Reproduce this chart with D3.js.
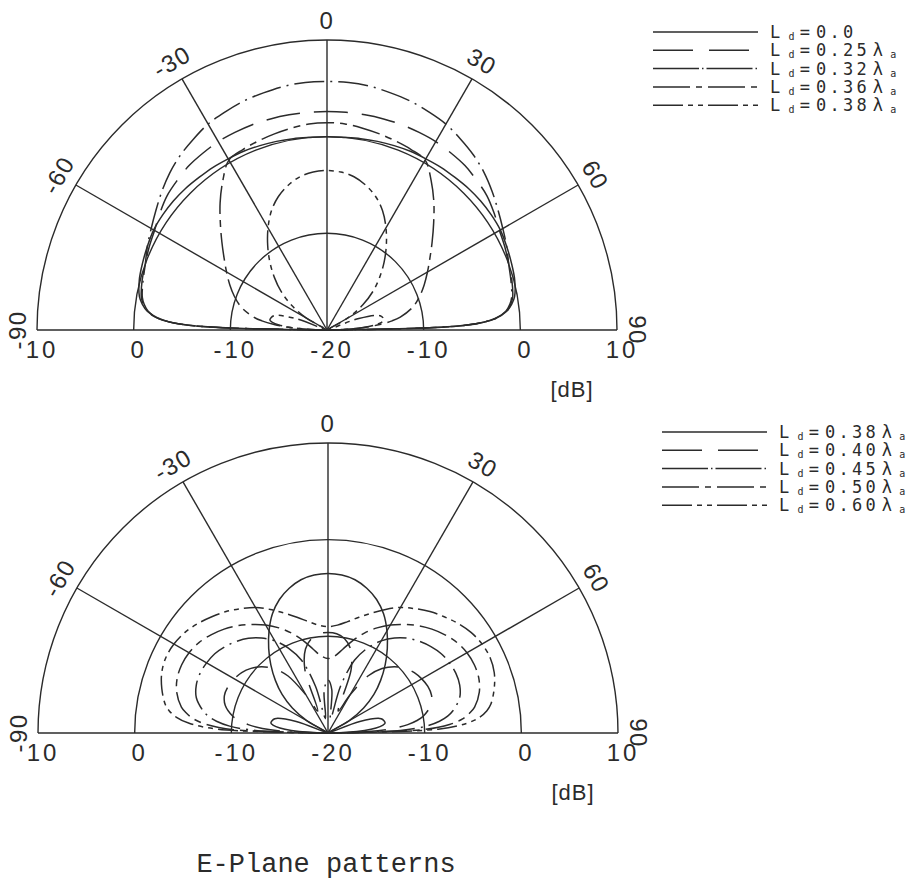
<!DOCTYPE html>
<html><head><meta charset="utf-8">
<script src="https://cdn.jsdelivr.net/npm/d3@7"></script>
<style>body{margin:0;background:#fff}</style>
</head><body>
<svg id="c" width="922" height="881"></svg>
<script>
// ---------- data ----------
const angles = [-90,-88,-86,-84,-82,-80,-75,-70,-65,-60,-55,-50,-45,-40,-35,-30,-25,-20,-15,-10,-5,0,5,10,15,20,25,30,35,40,45,50,55,60,65,70,75,80,82,84,86,88,90];

const ringTicks = [-10, 0, 10];
const spokeAngles = [-90, -60, -30, 0, 30, 60, 90];
const angleLabels = ["-90", "-60", "-30", "0", "30", "60", "90"];
const dbTickValues = [10, 0, -10, -20, -10, 0, 10];
const dbTickSides  = [-1, -1, -1, 0, 1, 1, 1];
const dbTickLabels = ["10", "0", "-10", "-20", "-10", "0", "10"];

// upper plot
const topLegend = ["0.0", "0.25", "0.32", "0.36", "0.38"];
const top_L000 = [-20,-5.5,-2.5,-1.3,-0.7,-0.3,0.1,0.3,0.5,0.7,0.75,0.75,0.7,0.6,0.55,0.45,0.4,0.3,0.2,0.1,0,0,0,0.1,0.2,0.3,0.4,0.45,0.55,0.6,0.7,0.75,0.75,0.7,0.5,0.3,0.1,-0.3,-0.7,-1.3,-2.5,-5.5,-20];
const top_L025 = [-20,-5.5,-2.4,-1.3,-0.8,-0.5,-0.2,0.0,0.3,0.6,1.1,1.6,1.9,2.2,2.35,2.5,2.55,2.6,2.6,2.6,2.6,2.6,2.6,2.6,2.6,2.6,2.55,2.5,2.35,2.2,1.9,1.6,1.1,0.6,0.3,0.0,-0.2,-0.5,-0.8,-1.3,-2.4,-5.5,-20];
const top_L032 = [-20,-5.5,-2.5,-1.4,-0.9,-0.6,-0.3,0.0,0.5,1.0,1.6,2.3,3.0,3.6,4.1,4.6,4.9,5.2,5.4,5.6,5.7,5.7,5.7,5.6,5.4,5.2,4.9,4.6,4.1,3.6,3.0,2.3,1.6,1.0,0.5,0.0,-0.3,-0.6,-0.9,-1.4,-2.5,-5.5,-20];
const top_L036 = [-20,-18,-16,-14.5,-13.2,-12.3,-10.8,-9.8,-8.9,-8.0,-7.0,-5.8,-4.4,-2.8,-1.2,0.3,0.6,0.8,1.0,1.2,1.4,1.45,1.4,1.2,1.0,0.8,0.6,0.3,-1.2,-2.8,-4.4,-5.8,-7.0,-8.0,-8.9,-9.8,-10.8,-12.3,-13.2,-14.5,-16,-18,-20];
const L038 = [-20,-18,-16.2,-15.0,-14.3,-14.0,-14.3,-16.5,-20,-17.5,-15.5,-13.8,-12.3,-10.8,-9.3,-7.8,-6.4,-5.3,-4.5,-3.9,-3.6,-3.5,-3.6,-3.9,-4.5,-5.3,-6.4,-7.8,-9.3,-10.8,-12.3,-13.8,-15.5,-17.5,-20,-16.5,-14.3,-14.0,-14.3,-15.0,-16.2,-18,-20];

// lower plot
const bottomLegend = ["0.38", "0.40", "0.45", "0.50", "0.60"];
const bot_L040 = [-20,-15.8,-13.2,-11.7,-10.7,-10,-9.0,-8.6,-8.6,-8.8,-9.1,-9.6,-10.3,-11.3,-12.8,-15.5,-17.5,-13,-11,-10.1,-9.7,-9.6,-9.7,-10.1,-11,-13,-17.5,-15.5,-12.8,-11.3,-10.3,-9.6,-9.1,-8.8,-8.6,-8.6,-9.0,-10,-10.7,-11.7,-13.2,-15.8,-20];
const bot_L045 = [-20,-12.5,-9.8,-8.4,-7.5,-6.9,-5.9,-5.5,-5.4,-5.5,-5.7,-6.1,-6.6,-7.2,-8.0,-9.0,-10.3,-12,-15,-18.5,-15.5,-14.5,-15.5,-18.5,-15,-12,-10.3,-9.0,-8.0,-7.2,-6.6,-6.1,-5.7,-5.5,-5.4,-5.5,-5.9,-6.9,-7.5,-8.4,-9.8,-12.5,-20];
const bot_L050 = [-20,-10.2,-7.4,-6.0,-5.2,-4.6,-3.8,-3.4,-3.3,-3.4,-3.7,-4.2,-4.8,-5.5,-6.3,-7.1,-8.0,-9.0,-10.1,-11.2,-12.0,-12.3,-12.0,-11.2,-10.1,-9.0,-8.0,-7.1,-6.3,-5.5,-4.8,-4.2,-3.7,-3.4,-3.3,-3.4,-3.8,-4.6,-5.2,-6.0,-7.4,-10.2,-20];
const bot_L060 = [-20,-8.6,-5.6,-4.2,-3.4,-2.9,-2.2,-1.7,-1.5,-1.6,-1.9,-2.4,-3.0,-3.6,-4.3,-5.0,-5.9,-6.8,-7.6,-8.3,-8.8,-9.0,-8.8,-8.3,-7.6,-6.8,-5.9,-5.0,-4.3,-3.6,-3.0,-2.4,-1.9,-1.6,-1.5,-1.7,-2.2,-2.9,-3.4,-4.2,-5.6,-8.6,-20];

const topSeries = [top_L000, top_L025, top_L032, top_L036, L038];
const bottomSeries = [L038, bot_L040, bot_L045, bot_L050, bot_L060];

// ---------- styles ----------
const INK = "#2b2b2b";
const dashStyles   = [null, "34,14", "30,6,2,6", "28,6,7,6", "20,5,5,5,5,5"];
const legendDashes = [null, "40,16", "46,3,1.5,3", "37,6,6,6", "30,5,5,5,5,5"];

const svg = d3.select("#c");
svg.append("rect").attr("width", 922).attr("height", 881).attr("fill", "#fff");

const R = 290;
const rScale = d3.scaleLinear().domain([-20, 10]).range([0, R]).clamp(true);
const rad = d => d * Math.PI / 180;

function drawPlot(cx, cy, series, legend, legendX, legendY0) {
  const g = svg.append("g").attr("transform", `translate(${cx},${cy})`);

  // rings
  ringTicks.forEach(t => {
    const p = d3.path();
    p.arc(0, 0, rScale(t), Math.PI, 2 * Math.PI);
    g.append("path").attr("d", p.toString()).attr("fill", "none")
      .attr("stroke", INK).attr("stroke-width", 1.4);
  });
  // spokes
  spokeAngles.forEach(a => {
    g.append("line")
      .attr("x1", 0).attr("y1", 0)
      .attr("x2", R * Math.sin(rad(a))).attr("y2", -R * Math.cos(rad(a)))
      .attr("stroke", INK).attr("stroke-width", 1.4);
  });
  // angle labels
  spokeAngles.forEach((a, i) => {
    const lr = R + 20;
    g.append("text")
      .attr("transform", `translate(${lr * Math.sin(rad(a))},${-lr * Math.cos(rad(a))}) rotate(${a})`)
      .attr("text-anchor", "middle").attr("dominant-baseline", "central")
      .attr("font-family", "Liberation Sans, Arial, sans-serif").attr("font-size", 24)
      .attr("letter-spacing", 1.5)
      .attr("fill", INK).text(angleLabels[i]);
  });
  // dB tick labels
  dbTickValues.forEach((v, i) => {
    g.append("text")
      .attr("x", dbTickSides[i] * rScale(v) + 5).attr("y", 28)
      .attr("text-anchor", "middle")
      .attr("font-family", "Liberation Sans, Arial, sans-serif").attr("font-size", 24)
      .attr("letter-spacing", 3)
      .attr("fill", INK).text(dbTickLabels[i]);
  });
  g.append("text").attr("x", 245).attr("y", 67).attr("text-anchor", "middle")
    .attr("font-family", "Liberation Sans, Arial, sans-serif").attr("font-size", 22)
    .attr("letter-spacing", 1).attr("fill", INK).text("[dB]");

  // curves
  const line = d3.lineRadial()
    .angle(d => rad(d[0]))
    .radius(d => rScale(d[1]))
    .curve(d3.curveCatmullRom.alpha(0.5));
  series.forEach((vals, k) => {
    const pts = angles.map((a, i) => [a, vals[i]]);
    g.append("path").attr("d", line(pts)).attr("fill", "none")
      .attr("stroke", INK).attr("stroke-width", 1.5)
      .attr("stroke-dasharray", dashStyles[k]);
  });

  // legend
  legend.forEach((lab, k) => {
    const y = legendY0 + k * 18.3;
    svg.append("line").attr("x1", legendX).attr("x2", legendX + 105)
      .attr("y1", y).attr("y2", y)
      .attr("stroke", INK).attr("stroke-width", 1.5)
      .attr("stroke-dasharray", legendDashes[k]);
    const t = svg.append("text").attr("x", legendX + 117).attr("y", y + 6)
      .attr("font-family", "DejaVu Sans Mono, monospace").attr("font-size", 17)
      .attr("letter-spacing", 3.2).attr("fill", INK);
    t.append("tspan").text("L");
    t.append("tspan").attr("font-size", 10).attr("dx", 5).attr("dy", 2).text("d");
    t.append("tspan").attr("font-size", 17).attr("dx", 2).attr("dy", -2).text("=");
    t.append("tspan").attr("dx", 3).text(lab);
    if (lab !== "0.0") {
      t.append("tspan").attr("dx", 3).text("λ");
      t.append("tspan").attr("font-size", 10).attr("dx", 4).attr("dy", 2).text("a");
    }
  });
}

drawPlot(327, 330, topSeries, topLegend, 653, 32);
drawPlot(328, 733, bottomSeries, bottomLegend, 662, 432);

svg.append("text").attr("x", 326).attr("y", 872).attr("text-anchor", "middle")
  .attr("font-family", "Liberation Mono, Courier New, monospace").attr("font-size", 27)
  .attr("fill", INK).text("E-Plane patterns");
</script>
</body></html>
